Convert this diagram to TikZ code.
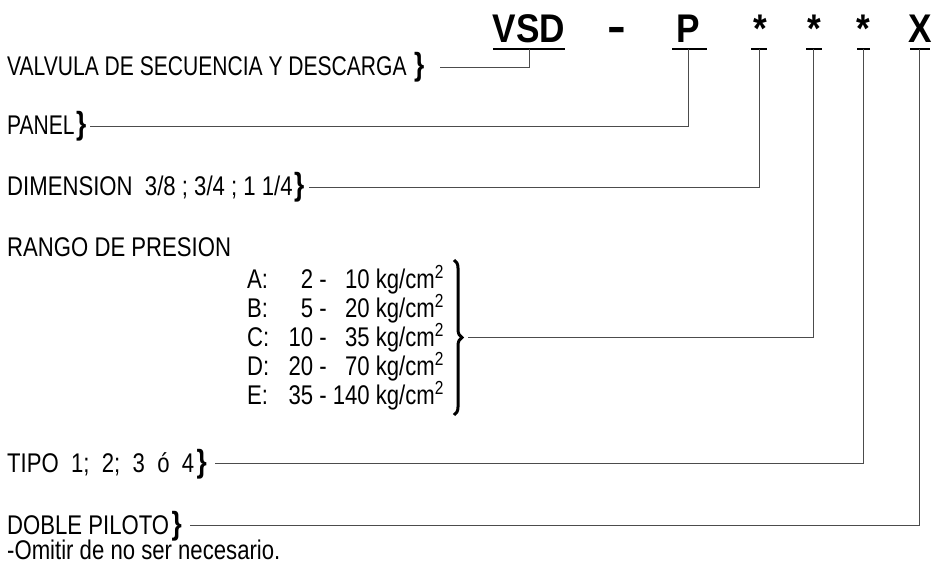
\documentclass[tikz,border=0pt]{standalone}
\usepackage{fontspec}
\setmainfont{Liberation Sans}[FakeStretch=0.82]
\newfontfamily\headfont{Liberation Sans}[FakeStretch=0.88]
\usepackage{tikz}
\usetikzlibrary{positioning,decorations.pathreplacing}

\tikzset{
  lbl/.style={anchor=base west, inner sep=0pt, font=\fontsize{27}{27}\selectfont},
  lblnarrow/.style={lbl, font=\fontsize{27}{27}\selectfont\addfontfeature{FakeStretch=0.78}},
  brc/.style={inner sep=0pt, font=\fontsize{32}{32}\selectfont\bfseries},
  head/.style={anchor=base, inner sep=0pt, font=\headfont\fontsize{40}{40}\selectfont\bfseries},
  conn/.style={draw=black!70, line width=0.7pt},
  uline/.style={line width=1.4pt}
}

\begin{document}
\begin{tikzpicture}[x=1pt,y=-1pt]
    \useasboundingbox (0,0) rectangle (932,567);

    % Code
    \node[head] (vsd) at (529,43) {VSD};
    \node[head] (guion) at (617,42) {\scalebox{1.6}[1.1]{-}};
    \node[head] (p) at (688,43) {P};
    \node[head] (s1) at (760,43) {*};
    \node[head] (s2) at (814,43) {*};
    \node[head] (s3) at (863,43) {*};
    \node[head] (x) at (920,43) {X};

    % Underlines
    \coordinate (u1) at (529,49);
    \coordinate (u2) at (688,49);
    \coordinate (u3) at (759,49);
    \coordinate (u4) at (813,49);
    \coordinate (u5) at (863,49);
    \coordinate (u6) at (919,49);
    \draw[uline] ([xshift=-36pt]u1) -- ([xshift=36pt]u1);
    \draw[uline] ([xshift=-16pt]u2) -- ([xshift=19pt]u2);
    \draw[uline] ([xshift=-8pt]u3) -- ([xshift=8pt]u3);
    \draw[uline] ([xshift=-7pt]u4) -- ([xshift=9pt]u4);
    \draw[uline] ([xshift=-6pt]u5) -- ([xshift=7pt]u5);
    \draw[uline] ([xshift=-9pt]u6) -- ([xshift=11pt]u6);

    % Labels
    \node[lblnarrow] (l1) at (7,76) {VALVULA DE SECUENCIA Y DESCARGA};
    \node[brc, base right=7pt of l1] (b1) {\}};
    \node[lblnarrow] (l2) at (7,135) {PANEL};
    \node[brc, base right=1pt of l2] (b2) {\}};
    \node[lbl] (l3) at (7,196) {DIMENSION~~3/8 ; 3/4 ; 1 1/4};
    \node[brc, base right=1pt of l3] (b3) {\}};
    \node[lbl] (l4) at (7,256) {RANGO DE PRESION};
    \node[lbl] (l5) at (7,472) {TIPO~~1;~~2;~~3~~ó~~4};
    \node[brc, base right=2pt of l5] (b5) {\}};
    \node[lbl] (l6) at (7,534) {DOBLE PILOTO};
    \node[brc, base right=2pt of l6] (b6) {\}};
    \node[lbl] (nota) at (7,559) {-Omitir de no ser necesario.};

    % Pressure ranges
    \node[lbl] (ra) at (247,288) {A:};
    \node[lbl] (va) at (294,288) {\makebox[19pt][r]{2} -\makebox[43pt][r]{10} kg/cm\textsuperscript{2}};
    \node[lbl] (rb) at (247,317) {B:};
    \node[lbl] (vb) at (294,317) {\makebox[19pt][r]{5} -\makebox[43pt][r]{20} kg/cm\textsuperscript{2}};
    \node[lbl] (rc) at (247,346) {C:};
    \node[lbl] (vc) at (294,346) {\makebox[19pt][r]{10} -\makebox[43pt][r]{35} kg/cm\textsuperscript{2}};
    \node[lbl] (rd) at (247,375) {D:};
    \node[lbl] (vd) at (294,375) {\makebox[19pt][r]{20} -\makebox[43pt][r]{70} kg/cm\textsuperscript{2}};
    \node[lbl] (re) at (247,404) {E:};
    \node[lbl] (ve) at (294,404) {\makebox[19pt][r]{35} -\makebox[43pt][r]{140} kg/cm\textsuperscript{2}};
    \draw[decorate, decoration={brace, amplitude=8pt}, line width=3pt] (454,260) -- (454,415);
    \coordinate (b4) at (463,337.5);

    % Leaders
    \draw[conn] (u1) |- ([xshift=16pt]b1.east);
    \draw[conn] (u2) |- ([xshift=3pt]b2.east);
    \draw[conn] (u3) |- ([xshift=5pt]b3.east);
    \draw[conn] (u4) |- ([xshift=5pt]b4);
    \draw[conn] (u5) |- ([xshift=8pt]b5.east);
    \draw[conn] (u6) |- ([xshift=8pt]b6.east);
\end{tikzpicture}
\end{document}
